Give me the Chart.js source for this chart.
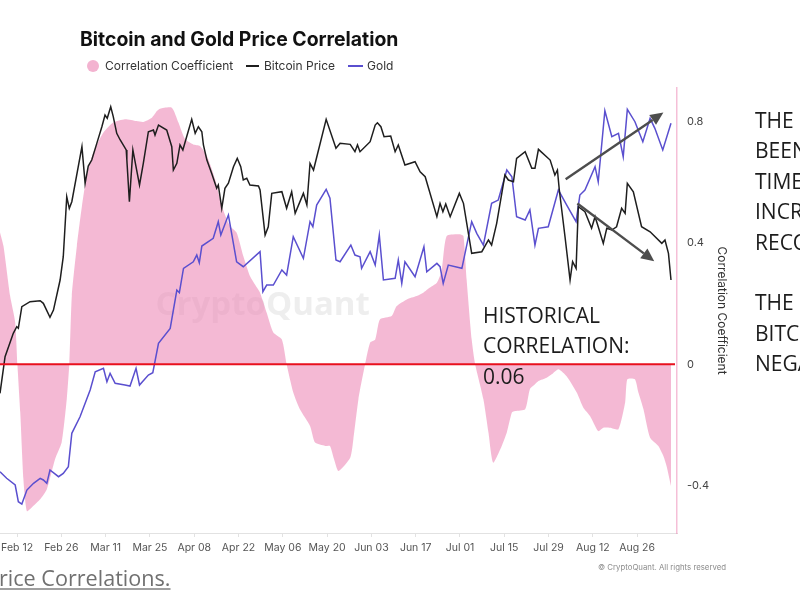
<!DOCTYPE html>
<html>
<head>
<meta charset="utf-8">
<script src="https://cdn.jsdelivr.net/npm/chart.js@4.4.1/dist/chart.umd.min.js"></script>
<style>
html, body { margin: 0; width: 800px; height: 600px; overflow: hidden; background: #fff; }
#chart { position: absolute; left: 0; top: 0; }
.abs { position: absolute; white-space: nowrap; }
.title { left: 80px; top: 27px; font: 700 19.4px Inter, sans-serif; color: #111; }
.leg { top: 58px; font: 12px Inter, sans-serif; color: #333; line-height: 16px; }
.dot { left: 87px; top: 60px; width: 12px; height: 12px; border-radius: 50%; background: #f3b3d0; }
.swatch { top: 65px; height: 1.6px; }
.note { font: 21px "Open Sans", sans-serif; line-height: 30.4px; color: #1c1c1c; }
.link { left: -1px; top: 563px; font: 21.6px "Open Sans", sans-serif; line-height: 30px; color: #707070; text-decoration: underline; text-decoration-color: #a0a0a0; }
.copy { left: 598px; top: 562px; font: 7.8px Inter, sans-serif; color: #8c8c8c; }
</style>
</head>
<body>
<canvas id="chart" width="800" height="600"></canvas>
<div class="abs title">Bitcoin and Gold Price Correlation</div>
<div class="abs dot"></div>
<div class="abs leg" style="left:105px">Correlation Coefficient</div>
<div class="abs swatch" style="left:246px;width:13px;background:#1e1e1e"></div>
<div class="abs leg" style="left:264px">Bitcoin Price</div>
<div class="abs swatch" style="left:348px;width:15px;background:#5a4fcf"></div>
<div class="abs leg" style="left:367px">Gold</div>
<div class="abs note" style="left:483px;top:300px">HISTORICAL<br>CORRELATION:<br>0.06</div>
<div class="abs note" style="left:755px;top:105px">THE<br>BEEN<br>TIME<br>INCR<br>RECO<br><br>THE<br>BITC<br>NEGA</div>
<div class="abs link">rice Correlations.</div>
<div class="abs copy">© CryptoQuant. All rights reserved</div>
<script>
// x values are days counted from Feb 12 (2024)
const tickDays = [0, 14, 28, 42, 56, 70, 84, 98, 112, 126, 140, 154, 168, 182, 196];
const tickLabels = ['Feb 12', 'Feb 26', 'Mar 11', 'Mar 25', 'Apr 08', 'Apr 22', 'May 06', 'May 20', 'Jun 03', 'Jun 17', 'Jul 01', 'Jul 15', 'Jul 29', 'Aug 12', 'Aug 26'];
const corrTicks = [-0.4, 0, 0.4, 0.8];

// Bitcoin price, USD thousands
const btcDays = [-5.4,-3.8,-1.2,-0.1,0.4,1.5,4.1,7.3,8.3,10.4,11.5,13.6,14.6,15.7,16.5,17.3,20.5,21.5,22.5,23.6,25.2,26.8,27.8,28.5,29.6,30.4,31.5,32.6,34.5,34.7,35.5,36.6,37.8,38.7,39.9,41.5,43.1,43.6,44.7,47.3,48.9,49.4,50.5,51.5,52.4,53.6,55.2,56.3,57.3,58.4,58.9,60.0,61.5,63.1,63.6,64.7,65.7,66.8,68.4,69.6,70.7,71.5,72.6,73.6,76.3,76.8,78.4,79.4,80.5,83.7,85.2,86.8,87.9,90.5,91.6,92.6,93.7,97.7,100.8,102.1,105.3,106.8,107.6,108.4,111.6,113.2,113.9,115.0,116.0,118.1,119.5,120.5,122.6,125.8,127.4,129.0,132.7,133.7,134.6,135.5,136.9,139.8,141.1,143.7,146.9,149.0,150.0,151.6,154.2,155.3,156.9,157.9,160.6,162.7,163.7,164.8,168.5,170.0,170.8,171.4,173.2,174.8,175.6,176.7,177.4,179.5,181.6,182.7,183.7,185.3,186.4,188.0,189.5,191.1,192.2,192.9,194.8,197.4,200.1,203.8,204.8,205.9,206.7];
const btcPrice = [41.51,45.55,48.13,48.85,48.68,51.06,51.61,51.72,51.43,49.89,50.69,54.00,56.57,63.18,61.90,62.63,68.69,64.66,66.56,67.22,69.06,70.89,72.18,71.82,73.10,72.00,70.17,69.43,68.33,67.22,62.63,68.33,66.12,64.47,66.86,70.34,70.53,69.98,71.08,70.53,68.69,66.12,66.86,68.88,68.33,69.79,71.71,70.17,70.89,70.34,68.88,67.22,65.76,64.11,64.47,61.90,64.11,64.66,66.49,67.41,66.49,65.02,65.21,64.47,64.36,63.92,58.96,59.87,63.55,63.73,61.90,63.73,61.35,63.55,62.27,66.86,66.12,71.71,68.51,69.06,68.95,68.14,68.88,68.14,69.24,71.08,71.33,70.89,69.79,69.87,68.14,68.88,66.67,67.04,65.93,65.38,60.98,62.45,61.53,62.38,60.98,63.55,62.45,56.94,57.12,58.41,57.86,60.25,65.57,65.02,64.83,67.41,68.14,66.31,66.31,68.40,67.22,65.57,66.12,63.92,58.77,54.00,56.02,55.29,62.08,61.53,59.70,60.98,59.87,58.04,59.70,59.51,59.87,61.90,61.35,64.66,63.73,59.87,59.32,58.04,58.41,56.94,54.00];

// Gold price, USD / oz
const goldDays = [-5.4,-3.3,-0.6,0.4,1.5,3.1,5.2,7.3,8.3,9.4,10.4,13.1,14.6,16.2,17.3,19.9,23.1,24.7,27.3,28.4,29.4,31.0,34.1,35.7,37.6,38.7,41.5,42.9,44.7,48.4,50.5,51.3,52.6,55.7,56.8,57.6,58.4,62.0,63.6,64.4,66.8,69.4,71.5,76.8,77.7,78.9,81.0,83.7,85.2,87.3,90.5,92.6,93.5,94.7,97.7,98.9,100.8,102.1,105.5,106.8,108.4,108.9,111.6,113.2,114.5,115.8,119.5,120.5,121.6,122.6,125.8,128.6,129.5,132.7,133.7,134.7,136.3,140.6,143.7,145.3,147.4,150.0,152.1,154.8,156.4,157.9,160.6,162.1,163.7,164.8,167.9,171.1,173.7,176.7,177.9,179.5,182.7,183.7,185.8,188.0,190.1,191.6,192.9,195.3,197.8,200.1,201.6,204.1,206.7];
const goldPrice = [2033.0,2024.4,2015.6,1993.7,1990.7,2009.0,2017.8,2024.4,2022.2,2017.8,2035.3,2026.5,2030.9,2039.6,2083.4,2105.1,2140.1,2164.1,2168.6,2151.0,2162.0,2148.9,2146.7,2145.4,2168.6,2146.7,2159.8,2162.8,2201.4,2221.0,2271.2,2267.7,2299.7,2308.3,2317.1,2307.0,2328.9,2339.0,2360.8,2343.3,2369.6,2308.3,2301.8,2321.5,2269.0,2277.8,2277.8,2297.5,2290.9,2341.1,2312.8,2360.8,2354.2,2382.7,2403.3,2391.5,2310.6,2308.3,2330.2,2317.1,2314.9,2299.7,2321.5,2304.0,2343.3,2284.4,2286.6,2310.6,2280.0,2308.3,2288.7,2328.0,2295.2,2306.2,2301.8,2280.0,2304.0,2299.7,2360.8,2345.6,2330.2,2384.9,2389.2,2428.6,2419.8,2367.3,2363.0,2376.3,2330.2,2352.1,2354.2,2402.3,2382.9,2360.8,2395.8,2402.3,2432.9,2413.2,2506.3,2472.2,2476.6,2446.0,2508.1,2491.9,2465.7,2496.3,2483.2,2454.8,2489.8];

// correlation coefficient
const corrDays = [-5.4,-4.3,-2.2,-0.6,0.1,1.0,2.0,3.1,4.7,7.3,9.4,12.0,14.1,15.7,16.5,17.3,18.9,20.5,22.0,24.1,27.3,30.4,34.1,37.8,39.9,42.6,44.2,45.2,48.9,51.0,53.1,55.7,57.8,60.0,62.6,64.7,67.3,69.4,71.5,73.6,75.8,76.8,78.9,81.0,83.7,85.2,87.3,89.4,92.6,94.2,97.4,98.9,100.2,101.6,105.3,106.3,107.9,110.0,111.6,113.2,114.7,118.4,120.0,123.2,126.3,128.4,130.5,132.7,134.2,135.8,140.0,141.1,142.1,143.7,144.8,147.4,149.0,150.5,153.2,154.8,156.4,157.4,160.6,162.1,163.7,164.8,167.4,169.0,171.1,173.7,176.9,179.0,181.1,183.7,185.3,187.4,190.1,192.2,192.9,195.3,196.4,198.0,200.1,202.7,204.3,205.3,206.7];
const corrValues = [0.435,0.390,0.225,0.138,0,-0.158,-0.379,-0.484,-0.471,-0.445,-0.412,-0.313,-0.257,-0.115,0,0.225,0.390,0.522,0.621,0.698,0.764,0.797,0.808,0.802,0.799,0.813,0.835,0.843,0.846,0.797,0.742,0.725,0.720,0.687,0.610,0.522,0.456,0.434,0.357,0.291,0.253,0.236,0.170,0.105,0.082,0,-0.093,-0.148,-0.203,-0.258,-0.269,-0.269,-0.313,-0.352,-0.308,-0.247,-0.115,0,0.072,0.082,0.148,0.159,0.192,0.214,0.225,0.236,0.253,0.269,0.308,0.423,0.429,0.423,0.280,0.082,0,-0.115,-0.225,-0.324,-0.269,-0.225,-0.159,-0.154,-0.148,-0.082,-0.066,-0.055,-0.044,-0.033,-0.016,-0.039,-0.093,-0.143,-0.170,-0.220,-0.209,-0.209,-0.214,-0.126,-0.049,-0.049,-0.093,-0.148,-0.242,-0.269,-0.302,-0.335,-0.401];

// annotations drawn on the picture, in chart units (day, correlation)
const redLineValue = 0;
const arrows = [
    { from: [173.4, 0.61], to: [204.3, 0.83] },
    { from: [177.1, 0.53], to: [201.4, 0.34] }
];

const pts = (xs, ys) => xs.map((x, i) => ({ x, y: ys[i] }));
const baseFont = { family: 'Inter, sans-serif', size: 10.5 };

const overlay = {
    id: 'overlay',
    beforeDatasetsDraw(chart) {
        const { ctx, chartArea: a } = chart;
        ctx.save();
        ctx.font = '700 33px "Open Sans", sans-serif';
        ctx.fillStyle = 'rgba(170,170,170,0.2)';
        ctx.textAlign = 'center';
        ctx.textBaseline = 'middle';
        ctx.fillText('CryptoQuant', a.left + a.width * 0.388, a.top + a.height * 0.49);
        ctx.restore();
    },
    afterDatasetsDraw(chart) {
        const { ctx, chartArea: a, scales: { x, corr } } = chart;
        ctx.save();
        const ry = corr.getPixelForValue(redLineValue);
        ctx.strokeStyle = '#e8101e';
        ctx.lineWidth = 2;
        ctx.beginPath();
        ctx.moveTo(a.left, ry);
        ctx.lineTo(a.right - 2, ry);
        ctx.stroke();

        ctx.strokeStyle = ctx.fillStyle = '#4d4d4d';
        ctx.lineWidth = 2.4;
        arrows.forEach(({ from, to }) => {
            const x0 = x.getPixelForValue(from[0]), y0 = corr.getPixelForValue(from[1]);
            const x1 = x.getPixelForValue(to[0]), y1 = corr.getPixelForValue(to[1]);
            const ang = Math.atan2(y1 - y0, x1 - x0), len = 13, half = 6;
            const bx = x1 - len * Math.cos(ang), by = y1 - len * Math.sin(ang);
            ctx.beginPath();
            ctx.moveTo(x0, y0);
            ctx.lineTo(bx, by);
            ctx.stroke();
            ctx.beginPath();
            ctx.moveTo(x1, y1);
            ctx.lineTo(bx + half * Math.sin(ang), by - half * Math.cos(ang));
            ctx.lineTo(bx - half * Math.sin(ang), by + half * Math.cos(ang));
            ctx.closePath();
            ctx.fill();
        });
        ctx.restore();
    }
};

new Chart(document.getElementById('chart'), {
    type: 'line',
    data: {
        datasets: [
            { label: 'Bitcoin Price', data: pts(btcDays, btcPrice), yAxisID: 'btc', borderColor: '#1e1e1e', borderWidth: 1.5, pointRadius: 0, order: 1 },
            { label: 'Gold', data: pts(goldDays, goldPrice), yAxisID: 'gold', borderColor: '#5a4fcf', borderWidth: 1.5, pointRadius: 0, order: 2 },
            { label: 'Correlation Coefficient', data: pts(corrDays, corrValues), yAxisID: 'corr', borderWidth: 0, borderColor: 'rgba(0,0,0,0)', backgroundColor: 'rgba(237,138,183,0.6)', fill: 'origin', pointRadius: 0, tension: 0.2, order: 3 }
        ]
    },
    options: {
        responsive: false,
        animation: false,
        layout: { padding: { top: 88, right: 63, bottom: 37, left: 0 }, autoPadding: false },
        plugins: { legend: { display: false }, tooltip: { enabled: false } },
        scales: {
            x: {
                type: 'linear', min: -5.4, max: 208.6,
                afterBuildTicks: s => { s.ticks = tickDays.map(v => ({ value: v })); },
                afterFit: s => { s.height = 30; s.paddingLeft = 0; s.paddingRight = 0; },
                ticks: { callback: (v, i) => tickLabels[i], font: baseFont, color: '#555', padding: 5, maxRotation: 0, autoSkip: false },
                grid: { drawOnChartArea: false, tickLength: 4, color: '#e2e2e2' },
                border: { color: '#e2e2e2' }
            },
            corr: {
                position: 'right', min: -0.556, max: 0.911,
                afterBuildTicks: s => { s.ticks = corrTicks.map(v => ({ value: v })); },
                afterFit: s => { s.width = 60; },
                ticks: { callback: v => String(v), font: { family: 'Inter, sans-serif', size: 11 }, color: '#444', padding: 10 },
                grid: { display: false, drawTicks: false },
                border: { color: 'rgba(237,138,183,0.55)', width: 1.5 },
                title: { display: true, text: 'Correlation Coefficient', font: { family: 'Inter, sans-serif', size: 12 }, color: '#333', padding: { top: 8, bottom: 0 } }
            },
            btc: { display: false, min: 26.12, max: 75.16 },
            gold: { display: false, min: 1952.7, max: 2536.1 }
        }
    },
    plugins: [overlay]
});
</script>
</body>
</html>
